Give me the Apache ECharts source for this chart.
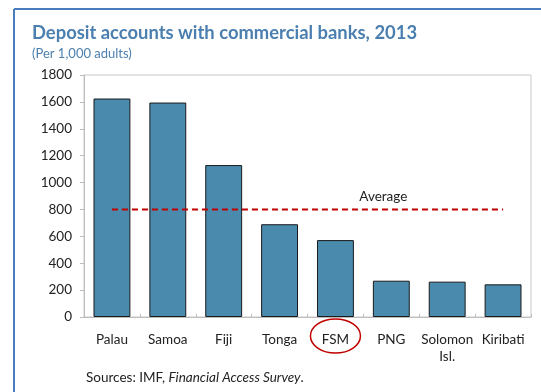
<!DOCTYPE html>
<html>
<head>
<meta charset="utf-8">
<script src="https://cdn.jsdelivr.net/npm/echarts@6/dist/echarts.min.js"></script>
<style>
  html, body { margin: 0; padding: 0; background: #fff; }
  #chart { width: 541px; height: 392px; }
</style>
</head>
<body>
<div id="chart"></div>
<script>
// Deposit accounts per 1,000 adults, Pacific island economies, 2013
const countries = ['Palau', 'Samoa', 'Fiji', 'Tonga', 'FSM', 'PNG', 'Solomon\nIsl.', 'Kiribati'];
const deposits = [1625, 1595, 1130, 690, 572, 270, 263, 243];
const averageValue = 800;
const averageLine = countries.map(() => averageValue);
const yTicks = { min: 0, max: 1800, step: 200 };
const highlighted = 'FSM';

const font = 'Lato, "Open Sans", sans-serif';
const chart = echarts.init(document.getElementById('chart'), null, { renderer: 'canvas' });

chart.setOption({
  animation: false,
  backgroundColor: '#ffffff',
  title: {
    text: 'Deposit accounts with commercial banks, 2013',
    subtext: '(Per 1,000 adults)',
    left: 27,
    top: 19,
    itemGap: 5,
    textStyle: { fontFamily: font, fontWeight: 'bold', fontSize: 18.4, color: '#4a7fb0' },
    subtextStyle: { fontFamily: font, fontSize: 13, color: '#4a7fb0' }
  },
  grid: {
    left: 84, right: 10, top: 75, bottom: 75,
    show: true, borderColor: '#c8c8c8', borderWidth: 1
  },
  xAxis: {
    type: 'category',
    data: countries,
    axisLine: { lineStyle: { color: '#bdbdbd' } },
    axisTick: { show: true, inside: true, length: 3, lineStyle: { color: '#bdbdbd' } },
    axisLabel: { interval: 0, fontFamily: font, fontSize: 13.5, color: '#222', margin: 14, lineHeight: 17 }
  },
  yAxis: {
    type: 'value',
    min: yTicks.min, max: yTicks.max, interval: yTicks.step,
    axisLine: { show: true, lineStyle: { color: '#bdbdbd' } },
    axisTick: { show: true, length: 4, lineStyle: { color: '#bdbdbd' } },
    splitLine: { show: false },
    axisLabel: { fontFamily: font, fontSize: 13.5, color: '#222', margin: 12, formatter: v => String(v) }
  },
  series: [
    {
      type: 'bar',
      data: deposits,
      barCategoryGap: '34%',
      itemStyle: { color: '#4a8aad', borderColor: '#1a1a1a', borderWidth: 1 },
      z: 2
    },
    {
      type: 'line',
      data: averageLine,
      symbol: 'none',
      lineStyle: { color: '#c00000', width: 2, type: [6, 4] },
      z: 3,
      markPoint: {
        symbol: 'circle', symbolSize: 0,
        data: [{ coord: [5, averageValue], value: 'Average' }],
        label: {
          show: true, formatter: 'Average', position: 'top', distance: 6, offset: [-8, 0],
          fontFamily: font, fontSize: 13.5, color: '#222'
        }
      }
    }
  ],
  graphic: [
    { id: 'frameTop', type: 'line', shape: { x1: 14, y1: 9, x2: 541, y2: 9 }, style: { stroke: '#4a7dc0', lineWidth: 2 } },
    { id: 'frameLeft', type: 'line', shape: { x1: 14, y1: 9, x2: 14, y2: 392 }, style: { stroke: '#4a7dc0', lineWidth: 2 } },
    {
      id: 'source', type: 'text', left: 86, top: 371,
      style: {
        text: '{n|Sources: IMF, }{i|Financial Access Survey}{n|.}',
        rich: {
          n: { fontFamily: font, fontSize: 13.5, fill: '#222' },
          i: { fontFamily: font, fontSize: 13.5, fontStyle: 'italic', fill: '#222' }
        }
      }
    }
  ]
});

// Red ellipse around the highlighted category label
const cx = chart.convertToPixel({ xAxisIndex: 0 }, highlighted);
const baseY = chart.convertToPixel({ yAxisIndex: 0 }, 0);
chart.setOption({
  graphic: [
    {
      id: 'highlight', type: 'ellipse',
      shape: { cx: cx, cy: baseY + 19, rx: 25, ry: 17 },
      style: { fill: 'none', stroke: '#c00000', lineWidth: 1.5 }
    }
  ]
});
</script>
</body>
</html>
